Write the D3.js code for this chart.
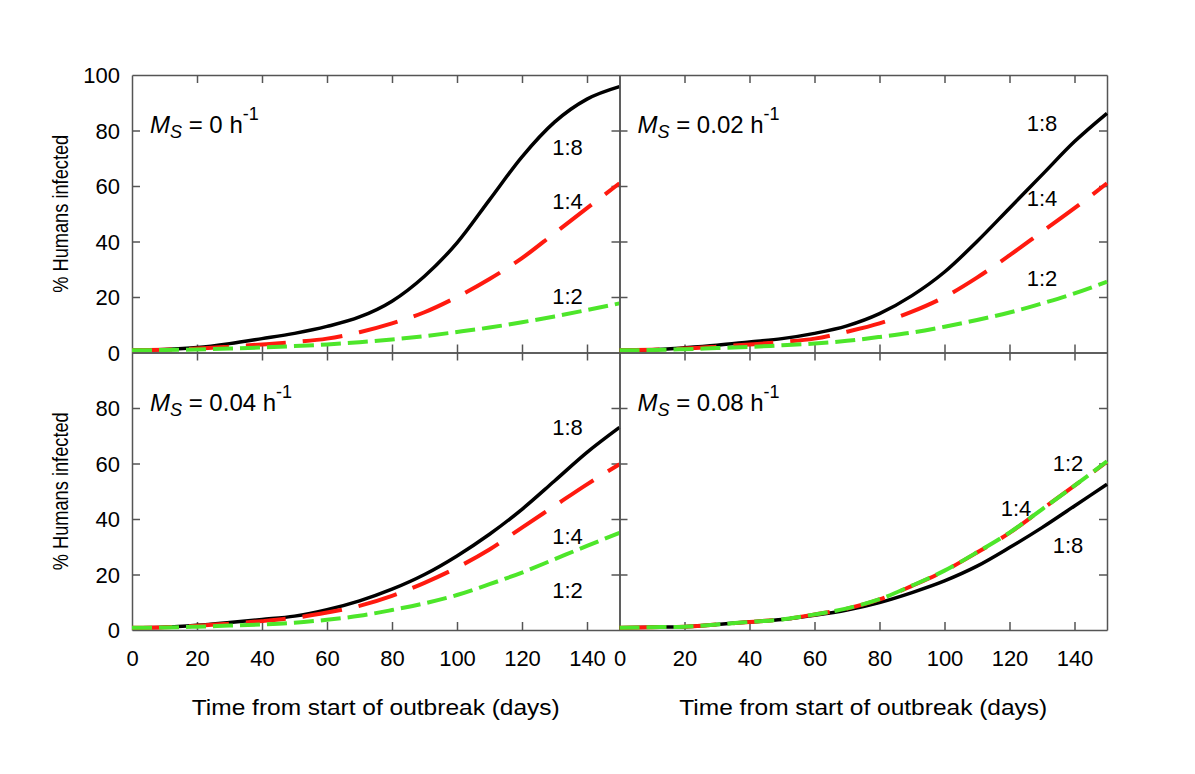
<!DOCTYPE html>
<html><head><meta charset="utf-8">
<script src="https://cdn.jsdelivr.net/npm/d3@7"></script>
<style>
body{margin:0;background:#fff}
text{font-family:"Liberation Sans",Arial,Helvetica,sans-serif;fill:#000}
</style>
</head><body>
<svg id="chart" width="1195" height="774"></svg>
<script>
// ---------- data ----------
const days = [0,10,20,30,40,50,60,70,80,90,100,110,120,130,140,150];
const ratios = ["1:8","1:4","1:2"];
const msValues = ["0","0.02","0.04","0.08"];
const xTickLabels = [0,20,40,60,80,100,120,140];
const yTickLabelsTop = [0,20,40,60,80,100];
const yTickLabelsBottom = [0,20,40,60,80];

// Ms = 0
const ms0_r8 = [0.8,1.1,1.8,3.2,5,6.9,9.4,12.8,18.5,27.5,39.5,55,70.5,83,91.3,95.8];
const ms0_r4 = [0.8,1,1.4,2.1,2.9,3.8,5,7.3,10.5,14.5,20,26.5,34,43,52,61];
const ms0_r2 = [0.8,0.9,1.1,1.4,1.8,2.3,2.9,3.7,4.7,5.9,7.4,9,10.9,13,15.3,17.7];
// Ms = 0.02
const ms002_r8 = [0.8,1,1.7,2.6,3.8,5,6.9,9.6,14,20.5,29,40,52,64,76,86.2];
const ms002_r4 = [0.8,1,1.4,2.1,2.9,3.8,5,7.5,10.5,14.7,20,27,35,43.5,52,61];
const ms002_r2 = [0.8,0.9,1.2,1.6,2,2.6,3.2,4.2,5.6,7.2,9.3,11.7,14.4,17.7,21.3,25.5];
// Ms = 0.04
const ms004_r8 = [0.8,1,1.7,2.7,3.8,5,7.3,10.5,14.7,20,26.7,34.5,43.5,53.7,64,73];
const ms004_r4 = [0.8,1,1.5,2.3,3.2,4.4,6.3,8.7,12.3,17,22.5,29,36.9,44.7,52.5,59.7];
const ms004_r2 = [0.8,0.9,1.2,1.6,2,2.6,3.7,5.1,7.2,9.6,12.6,16.5,20.7,25.5,30.3,35];
// Ms = 0.08
const ms008_r8 = [0.8,1,1.2,2,2.9,3.8,5.3,7.2,9.9,13.5,17.7,23,29.7,36.9,44.7,52.5];
const ms008_r4 = [0.8,1,1.2,2,2.9,3.8,5.6,7.7,11,15.9,21.3,27.9,35,43.5,52,60.6];
const ms008_r2 = [0.8,1,1.2,2,2.9,3.8,5.6,7.8,11.1,16,21.4,28,35.1,43.5,52,60.8];

// label anchors (day, %) for 1:8, 1:4, 1:2
const ms0_lab = [[134,74],[134,54.4],[134,20.2]];
const ms002_lab = [[130,82.7],[130,55.6],[130,26.8]];
const ms004_lab = [[134,73],[134,34],[134,14.5]];
const ms008_lab = [[138,30.5],[122,44],[138,60]];

// ---------- layout ----------
const X0 = 132, Y0 = 75, PW = 487.5, PH = 277.5;
const colors = ["#000000","#ff1a0f","#4de62a"];
const widths = [3.5,4,4];
const dashes = [null,"40,17","20,7"];

const panels = [
  {ms:msValues[0], s:[ms0_r8,ms0_r4,ms0_r2], lab:ms0_lab, col:0,row:0},
  {ms:msValues[1], s:[ms002_r8,ms002_r4,ms002_r2], lab:ms002_lab, col:1,row:0},
  {ms:msValues[2], s:[ms004_r8,ms004_r4,ms004_r2], lab:ms004_lab, col:0,row:1},
  {ms:msValues[3], s:[ms008_r8,ms008_r4,ms008_r2], lab:ms008_lab, col:1,row:1}
];

const svg = d3.select("#chart");
svg.append("rect").attr("width",1195).attr("height",774).attr("fill","#fff");

const boxColor = "#555555";

function styleAxis(g){
  g.selectAll("path.domain").attr("stroke",boxColor).attr("stroke-width",1.5);
  g.selectAll(".tick line").attr("stroke",boxColor).attr("stroke-width",1.5);
  g.attr("font-family",null).attr("font-size",null);
}

panels.forEach(p=>{
  const gx = X0 + p.col*PW, gy = Y0 + p.row*PH;
  const x = d3.scaleLinear().domain([0,150]).range([0,PW]);
  const y = d3.scaleLinear().domain([0,100]).range([PH,0]);
  const g = svg.append("g").attr("transform",`translate(${gx},${gy})`);

  const xt = [20,40,60,80,100,120,140], yt = [20,40,60,80];
  g.append("g").attr("transform",`translate(0,${PH})`)
    .call(d3.axisBottom(x).tickValues(xt).tickSizeInner(-8).tickSizeOuter(0).tickFormat(""))
    .call(styleAxis);
  g.append("g")
    .call(d3.axisTop(x).tickValues(xt).tickSizeInner(-8).tickSizeOuter(0).tickFormat(""))
    .call(styleAxis);
  g.append("g")
    .call(d3.axisLeft(y).tickValues(yt).tickSizeInner(-8).tickSizeOuter(0).tickFormat(""))
    .call(styleAxis);
  g.append("g").attr("transform",`translate(${PW},0)`)
    .call(d3.axisRight(y).tickValues(yt).tickSizeInner(-8).tickSizeOuter(0).tickFormat(""))
    .call(styleAxis);

  // tick labels
  if(p.col===0){
    const la = g.append("g")
      .call(d3.axisLeft(y).tickValues(p.row===0?yTickLabelsTop:yTickLabelsBottom).tickSize(0).tickPadding(12).tickFormat(d3.format("d")));
    la.select("path.domain").remove();
    la.attr("font-family",null).attr("font-size",null);
    la.selectAll("text").attr("font-size","22px").attr("dy","0.36em");
  }
  if(p.row===1){
    const lb = g.append("g").attr("transform",`translate(0,${PH})`)
      .call(d3.axisBottom(x).tickValues(xTickLabels).tickSize(0).tickPadding(20).tickFormat(d3.format("d")));
    lb.select("path.domain").remove();
    lb.attr("font-family",null).attr("font-size",null);
    lb.selectAll("text").attr("font-size","22px");
  }

  // lines
  const line = d3.line().x((d,i)=>x(days[i])).y(d=>y(d)).curve(d3.curveMonotoneX);
  p.s.forEach((vals,k)=>{
    g.append("path").datum(vals)
      .attr("d",line)
      .attr("fill","none")
      .attr("stroke",colors[k])
      .attr("stroke-width",widths[k])
      .attr("stroke-dasharray",dashes[k]);
  });

  // ratio labels
  p.lab.forEach((pt,k)=>{
    g.append("text").attr("x",x(pt[0])).attr("y",y(pt[1]))
      .attr("text-anchor","middle").attr("dy","0.36em")
      .attr("font-size","22px").text(ratios[k]);
  });

  // Ms annotation
  const t = g.append("text").attr("x",18).attr("y",58).attr("font-size","24px");
  t.append("tspan").attr("font-style","italic").text("M");
  t.append("tspan").attr("font-style","italic").attr("font-size","18px").attr("dy",5).text("S");
  t.append("tspan").attr("dy",-5).text(" = " + p.ms + " h");
  t.append("tspan").attr("font-size","18px").attr("dy",-13).text("-1");

  // axis titles
  if(p.col===0){
    svg.append("text")
      .attr("transform",`translate(68,${gy+PH/2}) rotate(-90)`)
      .attr("text-anchor","middle").attr("font-size","22px")
      .attr("textLength",158).attr("lengthAdjust","spacingAndGlyphs")
      .text("% Humans infected");
  }
  if(p.row===1){
    svg.append("text")
      .attr("x",gx+PW/2).attr("y",715)
      .attr("text-anchor","middle").attr("font-size","22px")
      .attr("textLength",368).attr("lengthAdjust","spacingAndGlyphs")
      .text("Time from start of outbreak (days)");
  }
});
</script>
</body></html>
